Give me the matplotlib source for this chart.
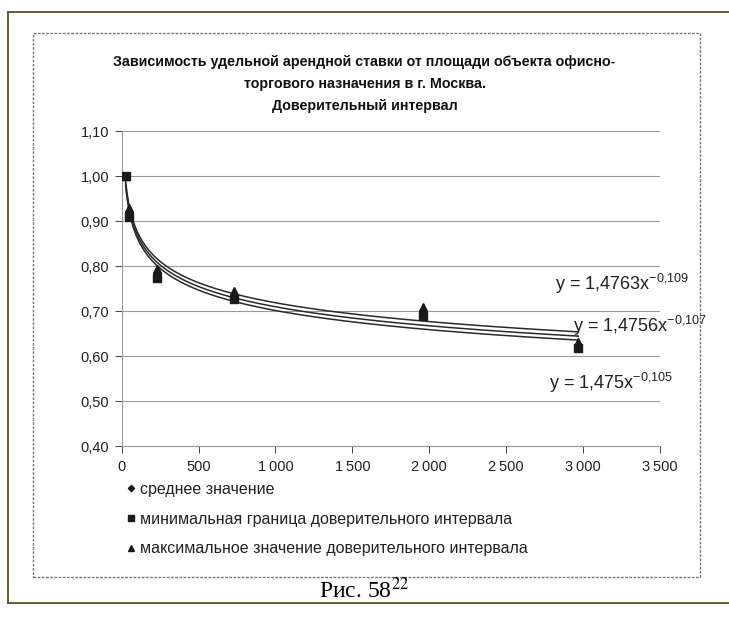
import numpy as np
import matplotlib
matplotlib.use('Agg')
import matplotlib.pyplot as plt
from matplotlib.lines import Line2D
from matplotlib.patches import Rectangle
from matplotlib.ticker import FuncFormatter

# площадь объекта, кв. м
area = [25, 50, 230, 730, 1960, 2970]

# удельная арендная ставка (доли)
mean_value = [1.00, 0.92, 0.785, 0.735, 0.700, 0.625]
min_bound = [1.00, 0.91, 0.775, 0.728, 0.690, 0.618]
max_bound = [1.00, 0.93, 0.795, 0.745, 0.710, 0.632]

labels = ['среднее значение',
          'минимальная граница доверительного интервала',
          'максимальное значение доверительного интервала']

equations = [('1,4763', '-0,109'), ('1,4756', '-0,107'), ('1,475', '-0,105')]

title = ('Зависимость удельной арендной ставки от площади объекта офисно-\n'
         'торгового назначения в г. Москва.\n'
         'Доверительный интервал')

plt.rcParams['font.family'] = ['Liberation Sans', 'DejaVu Sans']
plt.rcParams['mathtext.fontset'] = 'custom'
plt.rcParams['mathtext.rm'] = 'Liberation Sans'
plt.rcParams['mathtext.it'] = 'Liberation Sans'

fig = plt.figure(figsize=(7.29, 6.32), dpi=100)
ax = fig.add_axes([0.167, 0.294, 0.738, 0.498])


def power_trend(x, y):
    # как линия тренда "степенная" в Excel: МНК в логарифмах
    b, ln_a = np.polyfit(np.log(x), np.log(y), 1)
    xs = np.linspace(min(x), max(x), 300)
    return xs, np.exp(ln_a) * xs ** b


markers = ['D', 's', '^']
series = [mean_value, min_bound, max_bound]
for vals, m, lab in zip(series, markers, labels):
    xs, ys = power_trend(area, vals)
    ax.plot(xs, ys, color='#2a2a2a', lw=1.1, zorder=2)
    ax.plot(area, vals, ls='none', marker=m, ms=5.5 if m != 'D' else 4,
            color='#1a1a1a', mfc='#1a1a1a', label=lab, zorder=3)

ax.set_xlim(0, 3500)
ax.set_ylim(0.40, 1.10)
ax.set_xticks(np.arange(0, 3501, 500))
ax.set_yticks(np.arange(0.40, 1.101, 0.10))
ax.xaxis.set_major_formatter(FuncFormatter(lambda v, p: f'{int(v):,}'.replace(',', '\u2009')))
ax.yaxis.set_major_formatter(FuncFormatter(lambda v, p: f'{v:.2f}'.replace('.', ',')))
ax.tick_params(labelsize=10.5, colors='#222222', length=5, width=0.6)
ax.tick_params(axis='y', pad=4)
ax.tick_params(axis='x', pad=5)
ax.grid(axis='y', color='#9a9a9a', lw=0.8)
ax.set_axisbelow(True)
for s in ['top', 'right']:
    ax.spines[s].set_visible(False)
for s in ['left', 'bottom']:
    ax.spines[s].set_color('#999999')
    ax.spines[s].set_linewidth(0.8)

# подписи уравнений трендов
eq_pos = [(2820, 0.760), (2935, 0.668), (2780, 0.540)]
for (a, b), (ex, ey) in zip(equations, eq_pos):
    ax.text(ex, ey, f'y = {a}x$^{{{b.replace(",", "{,}")}}}$',
            fontsize=13, color='#222222', va='center', ha='left')

fig.text(0.5, 1 - 84 / 632, title, ha='center', va='center', fontsize=10.3,
         fontweight='bold', linespacing=1.75, color='#111111')

fig.legend(loc='upper left', bbox_to_anchor=(0.163, 0.250), frameon=False,
           fontsize=11.5, labelspacing=0.92, handlelength=0.5, handletextpad=0.3,
           borderpad=0, labelcolor='#222222', markerscale=0.8)

# рамка диаграммы и рамка страницы
fig.patches.append(Rectangle((33 / 729, 1 - 577 / 632), 667 / 729, 544 / 632,
                             transform=fig.transFigure, fill=False,
                             ec='#777777', lw=1.0, ls=(0, (2, 1))))
fig.lines.append(Line2D([8 / 729, 1], [1 - 12 / 632, 1 - 12 / 632],
                        transform=fig.transFigure, color='#5a5020', lw=1.3))
fig.lines.append(Line2D([8 / 729, 8 / 729], [1 - 12 / 632, 1 - 603 / 632],
                        transform=fig.transFigure, color='#5a5020', lw=1.3))
fig.lines.append(Line2D([8 / 729, 1], [1 - 603 / 632, 1 - 603 / 632],
                        transform=fig.transFigure, color='#5a5020', lw=1.3))

fig.text(0.5, 1 - 590 / 632, 'Рис. 58$^{22}$', ha='center', va='center',
         fontsize=17, family='Liberation Serif', math_fontfamily='stix')

fig.savefig('out.png', dpi=100)
